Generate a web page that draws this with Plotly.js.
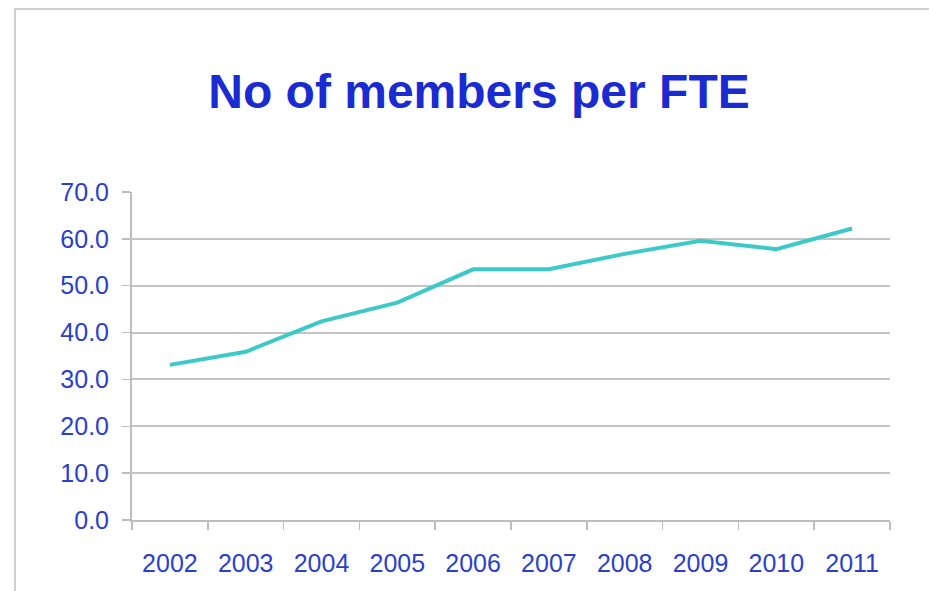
<!DOCTYPE html>
<html>
<head>
<meta charset="utf-8">
<script src="https://cdn.plot.ly/plotly-3.0.1.min.js"></script>
<style>
  html, body { margin: 0; padding: 0; background: #ffffff; overflow: hidden; width: 929px; height: 591px; }
  #frame { position: absolute; left: 14px; top: 8px; width: 960px; height: 620px;
           border-left: 2px solid #cfcfcf; border-top: 2px solid #cfcfcf; box-sizing: border-box; }
  #chart { position: absolute; left: 0; top: 0; width: 929px; height: 591px; }
</style>
</head>
<body>
<div id="frame"></div>
<div id="chart"></div>
<script>
var years = ["2002", "2003", "2004", "2005", "2006", "2007", "2008", "2009", "2010", "2011"];
var membersPerFTE = [33.1, 35.9, 42.4, 46.4, 53.5, 53.5, 56.8, 59.6, 57.8, 62.2];
var yTickVals = [0, 10, 20, 30, 40, 50, 60, 70];
var yTickText = ["0.0", "10.0", "20.0", "30.0", "40.0", "50.0", "60.0", "70.0"];

var trace = {
  x: years,
  y: membersPerFTE,
  type: "scatter",
  mode: "lines",
  line: { color: "#3ec9c9", width: 4 },
  hoverinfo: "x+y"
};

var layout = {
  width: 929,
  height: 591,
  paper_bgcolor: "rgba(0,0,0,0)",
  plot_bgcolor: "rgba(0,0,0,0)",
  margin: { l: 132, r: 39, t: 192, b: 71, pad: 0 },
  showlegend: false,
  font: { family: "Liberation Sans, Arial, sans-serif", color: "#2b3fc8" },
  title: {
    text: "<b>No of members per FTE</b>",
    font: { family: "Liberation Sans, Arial, sans-serif", size: 48, color: "#1a2bd2" },
    xref: "container", yref: "container",
    x: 479 / 929, xanchor: "center",
    y: 1 - 91 / 591, yanchor: "middle"
  },
  xaxis: {
    type: "category",
    range: [-0.5, years.length - 0.5],
    showgrid: false,
    showline: true,
    linecolor: "#bdbdbd",
    linewidth: 2,
    ticks: "outside",
    tickson: "boundaries",
    ticklen: 8,
    tickwidth: 1.5,
    tickcolor: "#bdbdbd",
    ticklabelstandoff: 20,
    tickfont: { size: 25, color: "#2b3fc8", family: "Liberation Sans, Arial, sans-serif" },
    zeroline: false,
    fixedrange: true
  },
  yaxis: {
    range: [0, 70],
    tickvals: yTickVals,
    ticktext: yTickText,
    showgrid: true,
    gridcolor: "#c4c4c4",
    gridwidth: 2,
    showline: true,
    linecolor: "#bdbdbd",
    linewidth: 2,
    ticks: "outside",
    ticklen: 8,
    tickwidth: 1.5,
    tickcolor: "#bdbdbd",
    ticklabelstandoff: 8,
    tickfont: { size: 25, color: "#2b3fc8", family: "Liberation Sans, Arial, sans-serif" },
    zeroline: false,
    fixedrange: true
  }
};

Plotly.newPlot("chart", [trace], layout, { displayModeBar: false, staticPlot: true });
</script>
</body>
</html>
